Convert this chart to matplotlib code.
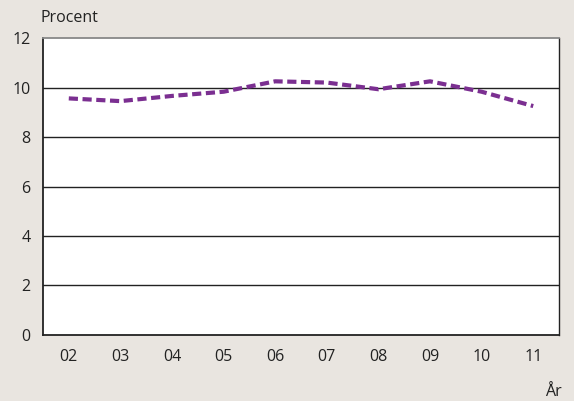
import numpy as np
import matplotlib.pyplot as plt

years = ["02", "03", "04", "05", "06", "07", "08", "09", "10", "11"]
procent = [9.56, 9.45, 9.66, 9.83, 10.25, 10.2, 9.93, 10.25, 9.83, 9.25]
y_ticks = [0, 2, 4, 6, 8, 10, 12]

bg = "#e9e5e0"
purple = "#7b2f91"

plt.rcParams["font.family"] = ["Open Sans", "DejaVu Sans"]

fig = plt.figure(figsize=(5.74, 4.01), dpi=100, facecolor=bg)
ax = fig.add_axes([0.0749, 0.1646, 0.899, 0.7406])
ax.set_facecolor("white")

x = np.arange(len(years))
ax.plot(x, procent, color=purple, lw=3, linestyle=(0, (2.2, 1.1)), solid_capstyle="butt", zorder=3)

ax.set_xlim(-0.5, len(years) - 0.5)
ax.set_ylim(0, 12)
ax.set_yticks(y_ticks)
ax.set_yticklabels([str(v) for v in y_ticks])
ax.set_xticks(x)
ax.set_xticklabels(years)
ax.tick_params(length=0, labelsize=11.5, colors="#222222")
ax.tick_params(axis="y", pad=9)
ax.tick_params(axis="x", pad=10)

for v in y_ticks[1:-1]:
    ax.axhline(v, color="#222222", lw=1.0, zorder=1)

for side in ["left", "bottom"]:
    ax.spines[side].set_color("#222222")
    ax.spines[side].set_linewidth(1.3)
ax.spines["top"].set_color("#888888")
ax.spines["top"].set_linewidth(1.3)
ax.spines["right"].set_color("#222222")
ax.spines["right"].set_linewidth(1.0)

fig.text(0.07, 0.955, "Procent", fontsize=11.5, color="#222222", va="center", ha="left")
fig.text(0.978, 0.022, "År", fontsize=11.5, color="#222222", va="center", ha="right")

fig.savefig("out.png", dpi=100, facecolor=bg)
